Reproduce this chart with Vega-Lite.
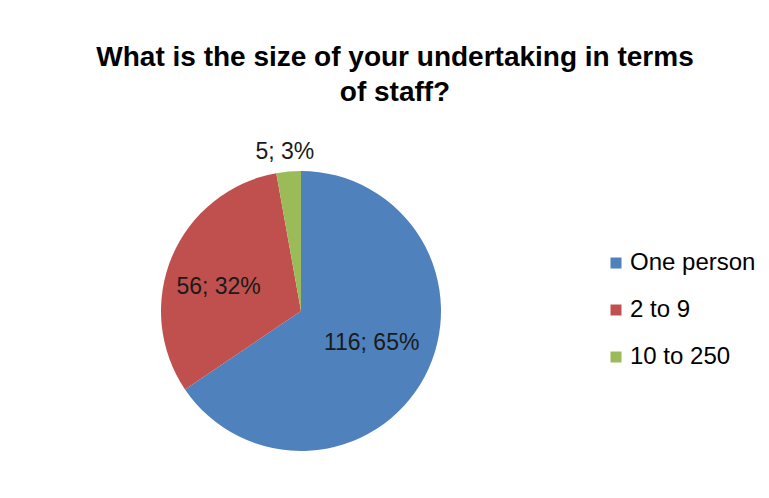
{
  "$schema": "https://vega.github.io/schema/vega-lite/v6.json",
  "width": 280,
  "height": 280,
  "autosize": "none",
  "padding": {"left": 161, "top": 171, "right": 328, "bottom": 47},
  "background": "white",
  "title": {
    "text": ["What is the size of your undertaking in terms", "of staff?"],
    "font": "Liberation Sans",
    "fontSize": 28,
    "fontWeight": "bold",
    "color": "#000000",
    "lineHeight": 35,
    "anchor": "middle",
    "dx": 94,
    "offset": 34
  },
  "data": {
    "values": [
      {"category": "One person", "count": 116, "label": "116; 65%"},
      {"category": "2 to 9", "count": 56, "label": "56; 32%"},
      {"category": "10 to 250", "count": 5, "label": "5; 3%"}
    ]
  },
  "encoding": {
    "theta": {"field": "count", "type": "quantitative", "stack": true},
    "order": {"field": "count", "type": "quantitative", "sort": "descending"}
  },
  "layer": [
    {
      "mark": {"type": "arc", "outerRadius": 140},
      "encoding": {
        "color": {
          "field": "category",
          "type": "nominal",
          "scale": {
            "domain": ["One person", "2 to 9", "10 to 250"],
            "range": ["#4F81BD", "#C0504D", "#9BBB59"]
          },
          "legend": {
            "title": null,
            "orient": "none",
            "legendX": 443,
            "legendY": 80,
            "symbolType": "square",
            "symbolSize": 121,
            "symbolStrokeWidth": 0,
            "labelFont": "Liberation Sans",
            "labelFontSize": 24,
            "labelColor": "#000000",
            "labelOffset": 2,
            "rowPadding": 23
          }
        }
      }
    },
    {
      "mark": {"type": "text", "radius": 80, "dy": -6, "font": "Liberation Sans", "fontSize": 23, "color": "#1a1a1a", "baseline": "middle"},
      "encoding": {
        "text": {"condition": {"test": "datum.category === 'One person'", "field": "label"}, "value": ""}
      }
    },
    {
      "mark": {"type": "text", "radius": 84, "dx": -5, "dy": 9, "font": "Liberation Sans", "fontSize": 23, "color": "#1a1a1a", "baseline": "middle"},
      "encoding": {
        "text": {"condition": {"test": "datum.category === '2 to 9'", "field": "label"}, "value": ""}
      }
    },
    {
      "mark": {"type": "text", "radius": 160, "dx": -2, "font": "Liberation Sans", "fontSize": 23, "color": "#1a1a1a", "baseline": "middle"},
      "encoding": {
        "text": {"condition": {"test": "datum.category === '10 to 250'", "field": "label"}, "value": ""}
      }
    }
  ],
  "config": {"view": {"stroke": null}}
}
